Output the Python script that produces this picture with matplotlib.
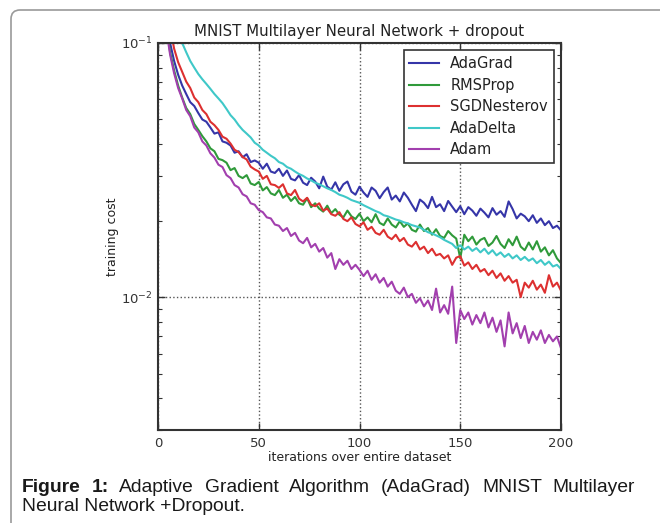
import numpy as np
import matplotlib.pyplot as plt
from matplotlib.patches import FancyBboxPatch
from matplotlib.ticker import LogLocator, NullFormatter

# iterations sampled every 2 epochs, cost values in units of 1e-3
iterations = np.arange(0, 201, 2)

adagrad = [210, 165, 128, 100, 85, 75, 68, 63, 58.5, 56.5, 53, 50, 49, 46.5, 44, 44.5, 41, 40.5, 39.5, 37,
           37.5, 35.5, 36.5, 34, 34.5, 33.8, 32, 33.5, 31.2, 30.8, 32, 30, 31.5, 29.2, 28.8, 30.2, 28.2, 27.6, 29.5, 28.5,
           26.8, 29.8, 27.2, 26.5, 28.3, 26.2, 27.8, 28.5, 26, 25.3, 27.2, 25.8, 24.8, 27, 26.2, 24.5, 25.9, 27, 24.2, 25.1,
           23.8, 25.8, 24.6, 23.1, 21.8, 24.2, 23.5, 22.4, 24.8, 22.6, 23.2, 21.8, 23.9, 22.7, 21.6, 22.8, 21.2, 22.6, 21.9, 20.9,
           22.3, 21.5, 20.6, 22.4, 21.1, 21.8, 20.7, 23.8, 22.2, 20.4, 21.3, 20.8, 19.9, 21, 19.6, 20.4, 19.2, 19.9, 18.7, 19.1,
           18.3]
rmsprop = [220, 165, 118, 92, 78, 68, 61, 55.5, 52.5, 48, 45.5, 43, 41, 38.5, 37.5, 35, 34.6, 33.8, 31.6, 32.2,
           30, 29.4, 30.2, 28, 27.6, 28.4, 26.3, 27.1, 25.6, 25.2, 26.4, 24.6, 25.3, 23.9, 24.8, 23.4, 23.1, 24.5, 22.6, 23.4,
           22.3, 21.7, 22.9, 21.4, 22.2, 21.1, 20.6, 21.9, 20.8, 20.3, 21.3, 19.9, 20.6, 19.7, 21.2, 19.6, 19.2, 20.4, 19.3, 18.8,
           19.9, 18.9, 19.5, 18.4, 18.1, 19.3, 18.2, 18.7, 17.6, 18.5, 17.4, 17.1, 18.2, 17.5, 17.0, 14.2, 17.6, 16.6, 17.3, 16.1,
           16.8, 17.1, 15.9, 16.4, 17.4, 16.2, 15.6, 16.9, 16.0, 17.3, 15.8, 15.3, 16.4, 15.4, 16.6, 15.1, 15.7, 14.6, 15.3, 14.2,
           13.6]
sgd_nesterov = [260, 200, 150, 115, 95, 84, 77, 70.5, 66.5, 61, 58.5, 54.5, 52.5, 49, 47.5, 45.5, 42.8, 42, 40.2, 38,
                37.2, 35.6, 34.8, 32.6, 31.8, 31.2, 29.2, 30, 27.8, 27.6, 26.9, 27.8, 25.6, 25.2, 26.4, 24.4, 23.8, 24.6, 23.1, 22.8,
                23.4, 21.9, 22.3, 21.2, 20.9, 21.6, 20.3, 19.9, 20.6, 19.4, 19.0, 19.7, 18.4, 18.9, 17.9, 17.6, 18.4, 17.3, 16.9, 17.6,
                16.6, 17.1, 16.1, 15.8, 16.5, 15.4, 15.8, 14.9, 15.5, 14.6, 14.8, 14.2, 14.6, 13.4, 14.3, 14.5, 13.3, 13.7, 12.9, 13.4,
                12.6, 12.9, 12.2, 12.7, 11.9, 12.4, 11.6, 12.1, 11.4, 11.7, 10.0, 11.4, 10.9, 11.6, 10.7, 11.2, 10.4, 12.2, 11.0, 11.4,
                10.6]
adadelta = [400, 300, 230, 180, 145, 118, 100, 92, 85, 80, 75.5, 72, 69, 66, 63, 60.5, 58, 55, 52, 50,
            47.5, 45.5, 44, 42.5, 40.5, 39.5, 38, 37, 36, 35.2, 34, 33.5, 32.5, 32, 31.2, 30.5, 30, 29.3, 28.8, 28.2,
            27.8, 27.3, 26.8, 26.4, 25.9, 25.3, 25, 24.6, 24.1, 23.8, 23.5, 23, 22.6, 22.2, 21.8, 21.5, 21, 20.8, 20.5, 20.2,
            20, 19.7, 19.5, 19.2, 19, 18.8, 18.4, 18, 17.8, 17.5, 17.2, 16.8, 16.5, 16.2, 15.6, 16, 15.4, 15.8, 15.2, 15.6,
            15, 15.5, 14.8, 15.3, 14.6, 15, 14.4, 14.8, 14.2, 14.6, 14, 14.4, 13.9, 14.2, 13.6, 14, 13.4, 13.8, 13.2, 13.4,
            12.9]
adam = [230, 165, 115, 90, 76, 66.5, 60.5, 54.5, 51.5, 46.5, 44.5, 41, 39.5, 36.8, 35.4, 33.2, 32.5, 30.2, 29.4, 27.6,
        27, 25.4, 24.9, 23.4, 23.1, 22, 21.6, 20.6, 20.4, 19.3, 19.1, 18.2, 18.7, 17.4, 17.9, 16.7, 16.3, 17.1, 15.7, 16.2,
        15.1, 15.6, 14.3, 14.9, 12.9, 14.1, 13.4, 13.9, 12.9, 13.4, 12.8, 12.1, 12.7, 11.7, 12.3, 11.4, 11.9, 11.0, 11.5, 10.6,
        10.3, 10.9, 10.0, 10.3, 9.5, 9.9, 9.2, 9.7, 8.9, 10.8, 8.7, 9.3, 8.6, 11.0, 6.6, 8.9, 8.2, 8.7, 7.8, 8.5,
        7.9, 8.7, 7.6, 8.3, 7.3, 8.1, 6.4, 8.7, 7.2, 7.9, 6.9, 7.7, 6.6, 7.3, 6.8, 7.4, 6.6, 7.1, 6.7, 7.0,
        6.3]

series = [
    ("AdaGrad", adagrad, "#3535a8"),
    ("RMSProp", rmsprop, "#2f9a3a"),
    ("SGDNesterov", sgd_nesterov, "#dd3030"),
    ("AdaDelta", adadelta, "#3fc8c8"),
    ("Adam", adam, "#a23fae"),
]

fig = plt.figure(figsize=(6.6, 5.23), dpi=100)

# rounded frame around the figure (cut off at right/bottom)
frame = FancyBboxPatch((11, -60), 720, 573, boxstyle="round,pad=0,rounding_size=9",
                       transform=None, fill=False, edgecolor="#9a9a9a", linewidth=1.2)
fig.add_artist(frame)

ax = fig.add_axes([158 / 660, 1 - 430 / 523, 403 / 660, 387 / 523])
for name, vals, col in series:
    ax.plot(iterations, np.array(vals) * 1e-3, color=col, lw=1.5, label=name)

ax.set_yscale("log")
ax.set_xlim(0, 200)
ax.set_ylim(0.003, 0.1)
ax.set_xticks([0, 50, 100, 150, 200])
ax.yaxis.set_minor_locator(LogLocator(base=10, subs=np.arange(2, 10)))
ax.yaxis.set_minor_formatter(NullFormatter())
ax.grid(True, which="major", linestyle=":", color="#555555", lw=1.0)
ax.tick_params(which="both", direction="in", top=True, right=True, colors="#333333", labelsize=9.5)
ax.tick_params(which="major", length=5, width=1)
ax.tick_params(which="minor", length=3, width=0.8)
ax.tick_params(axis="x", pad=5)
for s in ax.spines.values():
    s.set_linewidth(1.5)
    s.set_color("#333333")

ax.set_title("MNIST Multilayer Neural Network + dropout", fontsize=10.8, color="#222222", pad=5)
ax.set_xlabel("iterations over entire dataset", fontsize=9, color="#222222", labelpad=1)
ax.set_ylabel("training cost", fontsize=9, color="#222222", labelpad=2)

leg = ax.legend(loc="upper right", fontsize=10.5, fancybox=False, framealpha=1, edgecolor="#333333",
                handlelength=2.0, labelspacing=0.45, borderaxespad=0.5)
leg.get_frame().set_linewidth(1.2)
for t in leg.get_texts():
    t.set_color("#222222")

# caption, first line justified
fig.canvas.draw()
rend = fig.canvas.get_renderer()
cap_font = ["Liberation Sans", "DejaVu Sans"]
line1 = [("Figure", "bold"), ("1:", "bold"), ("Adaptive", "normal"), ("Gradient", "normal"),
         ("Algorithm", "normal"), ("(AdaGrad)", "normal"), ("MNIST", "normal"), ("Multilayer", "normal")]
x_left, x_right = 22, 635
words = []
for w, wt in line1:
    t = fig.text(0, 1 - 492 / 523, w, fontsize=13.9, fontweight=wt, family=cap_font,
                 color="#1a1a1a", va="baseline")
    words.append(t)
widths = [t.get_window_extent(rend).width for t in words]
gap = (x_right - x_left - sum(widths)) / (len(words) - 1)
xpos = x_left
for t, wd in zip(words, widths):
    t.set_x(xpos / 660)
    xpos += wd + gap
fig.text(x_left / 660, 1 - 511 / 523, "Neural Network +Dropout.", fontsize=13.9, family=cap_font,
         color="#1a1a1a", va="baseline")

fig.savefig("out.png", dpi=100)
